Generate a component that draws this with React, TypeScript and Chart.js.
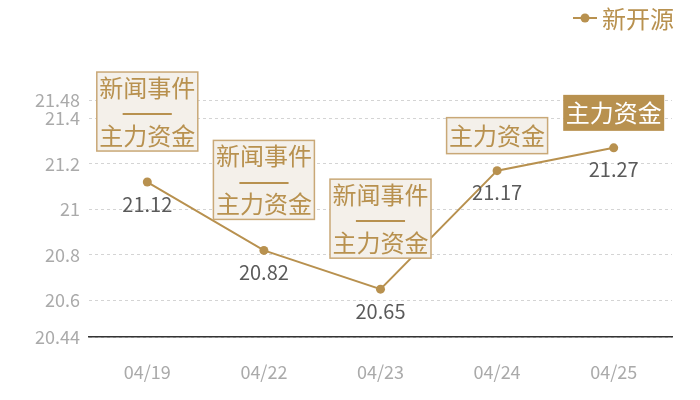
import { useEffect, useRef } from "react"
import Chart from "chart.js/auto"

const categories = ["04/19", "04/22", "04/23", "04/24", "04/25"]
const prices = [21.12, 20.82, 20.65, 21.17, 21.27]
const yTicks = [20.44, 20.6, 20.8, 21, 21.2, 21.4, 21.48]
const eventTags = [
  ["新闻事件", "——", "主力资金"],
  ["新闻事件", "——", "主力资金"],
  ["新闻事件", "——", "主力资金"],
  ["主力资金"],
  ["主力资金"],
]
const highlighted = [false, false, false, false, true]
const seriesName = "新开源"

const GOLD = "#b8914f"
const FONT = "'Noto Sans CJK SC', 'Noto Sans', sans-serif"

const tagPlugin = {
  id: "tags",
  afterDatasetsDraw(chart: any) {
    const ctx = chart.ctx
    const meta = chart.getDatasetMeta(0)
    ctx.save()
    meta.data.forEach((pt: any, i: number) => {
      // value label under the point
      ctx.font = `20px ${FONT}`
      ctx.fillStyle = "#5a5a5a"
      ctx.textAlign = "center"
      ctx.textBaseline = "middle"
      ctx.fillText(String(prices[i]), pt.x, pt.y + 22)

      // event tag box above the point
      const lines = eventTags[i]
      const lh = 24
      const padY = lines.length > 1 ? 3.5 : 6
      const w = 101
      const h = lines.length * lh + padY * 2
      const gap = lines.length > 1 ? 31 : 17
      const bx = pt.x - w / 2
      const by = pt.y - gap - h
      if (highlighted[i]) {
        ctx.fillStyle = GOLD
        ctx.fillRect(bx, by, w, h)
      } else {
        ctx.fillStyle = "#f4f0ea"
        ctx.fillRect(bx, by, w, h)
        ctx.strokeStyle = "#c9a877"
        ctx.lineWidth = 1.5
        ctx.strokeRect(bx, by, w, h)
      }
      ctx.fillStyle = highlighted[i] ? "#fff" : GOLD
      lines.forEach((t, j) => {
        const isDash = t === "——"
        ctx.font = isDash ? `31px ${FONT}` : `24px ${FONT}`
        ctx.letterSpacing = isDash ? "-7px" : "0px"
        ctx.fillText(t, pt.x + (isDash ? -3.5 : 0), by + padY + lh * j + lh / 2)
      })
      ctx.letterSpacing = "0px"
    })

    // legend
    ctx.strokeStyle = GOLD
    ctx.lineWidth = 2
    ctx.beginPath()
    ctx.moveTo(573, 18)
    ctx.lineTo(597, 18)
    ctx.stroke()
    ctx.fillStyle = GOLD
    ctx.beginPath()
    ctx.arc(585, 18, 4.5, 0, Math.PI * 2)
    ctx.fill()
    ctx.font = `24px ${FONT}`
    ctx.textAlign = "left"
    ctx.fillText(seriesName, 602, 19)
    ctx.restore()
  },
}

export default function App() {
  const canvasRef = useRef<HTMLCanvasElement>(null)

  useEffect(() => {
    if (!canvasRef.current) return
    document.body.style.margin = "0"
    Chart.defaults.font.family = FONT

    const chart = new Chart(canvasRef.current, {
      type: "line",
      data: {
        labels: categories,
        datasets: [
          {
            label: seriesName,
            data: prices,
            borderColor: GOLD,
            backgroundColor: GOLD,
            borderWidth: 2,
            pointRadius: 4.5,
            pointBorderWidth: 0,
            pointBackgroundColor: GOLD,
            tension: 0,
          },
        ],
      },
      options: {
        responsive: true,
        maintainAspectRatio: false,
        animation: false,
        layout: { padding: { top: 100, right: 28, left: 0, bottom: 0 } },
        plugins: {
          legend: { display: false },
          tooltip: { enabled: false },
        },
        scales: {
          x: {
            offset: true,
            grid: { display: false, drawTicks: false },
            border: { display: true, color: "#333", width: 1.5 },
            ticks: { color: "#aaa", font: { size: 18 }, padding: 24 },
            afterFit: (s: any) => {
              s.height = 63
            },
          },
          y: {
            min: 20.44,
            max: 21.48,
            grid: { color: "#d4d4d4", drawTicks: false, lineWidth: 1 },
            border: { display: false, dash: [3, 3] },
            ticks: {
              color: "#aaa",
              font: { size: 18 },
              padding: 9,
              callback: (v: any) => String(v),
            },
            afterBuildTicks: (s: any) => {
              s.ticks = yTicks.map((v) => ({ value: v }))
            },
            afterFit: (s: any) => {
              s.width = 89
            },
          },
        },
      },
      plugins: [tagPlugin],
    })

    return () => chart.destroy()
  }, [])

  return (
    <div style={{ position: "absolute", left: 0, top: 0, width: 700, height: 400 }}>
      <canvas ref={canvasRef} />
    </div>
  )
}
